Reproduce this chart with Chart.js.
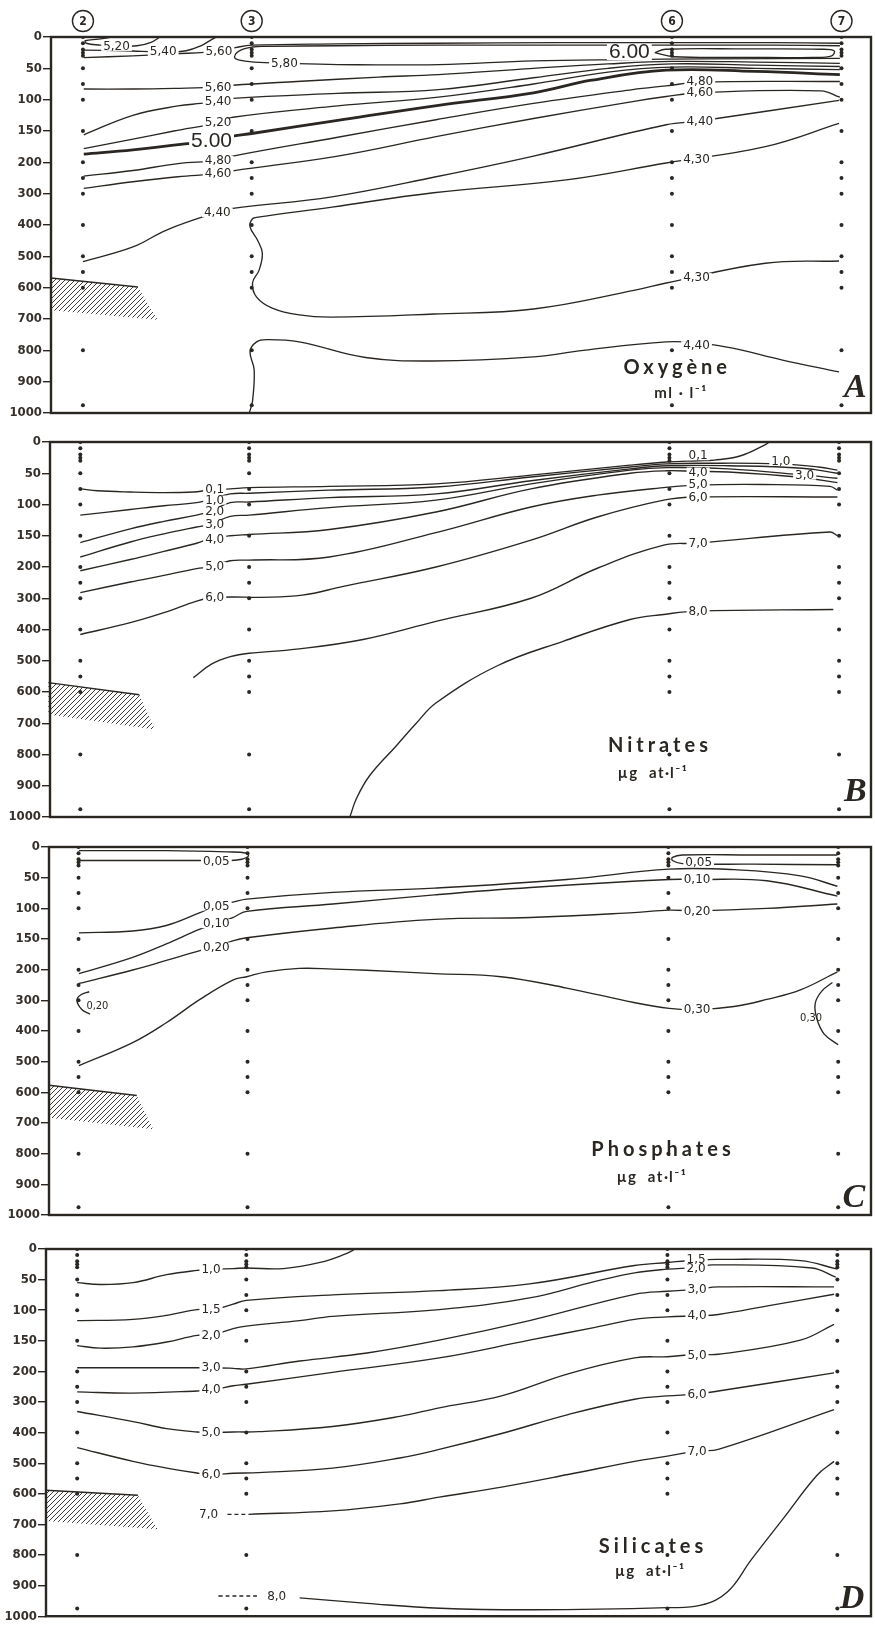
<!DOCTYPE html>
<html>
<head>
<meta charset="utf-8">
<script src="https://cdn.jsdelivr.net/npm/chart.js@4.4.1/dist/chart.umd.min.js"></script>
<style>
  body { margin: 0; background: #fff; }
  #page { position: relative; width: 875px; height: 1625px; overflow: hidden; background: #fff; }
  #page canvas { position: absolute; left: 0; }
</style>
</head>
<body>
<div id="page">
  <canvas id="cA" width="875" height="425" style="top:0px"></canvas>
  <canvas id="cB" width="875" height="405" style="top:425px"></canvas>
  <canvas id="cC" width="875" height="400" style="top:830px"></canvas>
  <canvas id="cD" width="875" height="395" style="top:1230px"></canvas>
</div>
<script>
// stations along the section (distance units) and sampling depths (m)
const stations = ['2', '3', '6', '7'];
const stationDist = [3.9, 24.5, 75.8, 96.5];
const sampleDepths = [0, 10, 20, 25, 30, 50, 75, 100, 150, 200, 250, 300, 400, 500, 550, 600, 800, 975];
const depthTicks = [0, 50, 100, 150, 200, 300, 400, 500, 600, 700, 800, 900, 1000];

// ---- A : oxygene (ml/l) isolines, [distance, depth]
const oxy520a = [[7.5,0],[5.8,3.5],[4.2,6],[4.3,10],[6,13],[8,15],[10.5,14],[12.3,8],[13.3,0]];
const oxy540a = [[4,21],[9,22],[14,24],[16.5,22],[18.3,14],[19.5,5],[20.2,0]];
const oxy560a = [[4,33],[10,30],[15,27],[20.3,23],[22.5,17],[24.5,13],[35,11],[47,10],[62,9],[75.8,9],[88,9],[96.3,10]];
const oxy580 = [[96.3,14],[88,13],[75.8,13],[62,13],[47,13],[35,14],[26.5,15],[24.6,16],[23,22],[22.4,32],[23,37],[24.8,40],[28.6,42],[35,44],[47.3,44],[58.9,38],[70,36],[80,35],[96.3,34]];
const oxy600 = [[73.7,25],[75,19.5],[85,19],[94,19.5],[95.6,22],[95.3,30],[93,32.5],[85,32.5],[76,31.5],[73.7,25]];
const oxy560b = [[4,83],[10,83],[15,82],[20.4,80],[22.2,77],[30,71],[40,64],[47.3,60],[58.9,50],[68,43],[75.8,39],[86,40],[96.3,42]];
const oxy540b = [[4,156],[10,125],[15.5,110],[18.3,106],[20.4,103],[22.2,98],[35,90],[47.3,84],[58.9,65],[68,50],[75.8,43],[86,45],[96.3,47]];
const oxy520b = [[4,178],[10,163],[15,150],[20.4,137],[22.2,128],[35,110],[47.3,96],[58.9,75],[68,56],[75.8,48],[86,50],[96.3,52]];
const oxy500 = [[4,187],[10,180],[16.8,170],[19.6,165],[22.2,158],[24.5,154],[35,133],[47.3,109],[58.9,89],[66,69],[75.1,53],[86,55],[96.3,60]];
const oxy480 = [[4,244],[10,226],[15.5,204],[20.4,197],[22.2,190],[35,160],[47,132],[58.9,106],[71,84],[75.1,78],[79.2,72],[96.3,71]];
const oxy460 = [[4,283],[10,262],[15.5,246],[20.4,236],[22.2,227],[35,190],[47,159],[58.9,130],[71,103],[75.1,95],[79.2,89],[94,86],[96.3,96]];
const oxy440a = [[3.9,517],[10,470],[14.1,416],[20.2,360],[22.2,347],[34.3,310],[47,246],[58.9,190],[75.1,140],[79.2,134],[96.2,101]];
const oxy430 = [[96.2,138],[87.2,175],[75.1,202],[62.9,256],[46.7,297],[34.3,343],[25.3,375],[24.6,380],[24.3,406],[25.2,448],[25.8,490],[25.4,544],[24.6,585],[25.1,630],[27,665],[30.3,687],[34.3,694],[46.7,684],[58.9,668],[71.3,608],[75.1,585],[87.2,522],[96.2,515]];
const oxy440b = [[24.2,1000],[24.6,962],[24.8,862],[24.3,803],[25.1,773],[26.3,766],[30.3,773],[38.4,823],[46.7,834],[58.9,821],[65,800],[75.1,773],[79.2,777],[83.2,793],[89.3,831],[96.2,869]];
const oxyLabels = [[8,15,'5,20'],[13.7,23,'5,40'],[20.5,23,'5,60'],[28.5,42,'5,80'],[20.4,80,'5,60'],[20.4,103,'5,40'],[20.4,137,'5,20'],[19.6,165,'5.00','big'],[20.4,197,'4,80'],[20.4,236,'4,60'],[20.3,360,'4,40'],[70.6,24,'6.00','big'],[79.2,71,'4,80'],[79.2,89,'4,60'],[79.2,134,'4,40'],[78.8,195,'4,30'],[78.8,568,'4,30'],[78.8,785,'4,40']];
const oxyShelf = [[0,569],[10.6,598],[13,702],[0,672]];

// ---- B : nitrates
const nit01 = [[3.9,75],[6,78],[10,80],[14.1,81],[17.7,80],[19.7,77],[22.2,75],[24.5,73],[34.3,71],[47.3,67],[58.9,53],[71,37],[75.5,32],[79.3,30],[81.3,29],[84.5,22],[87.4,5],[88,0]];
const nit10 = [[3.9,117],[10,108],[14.1,102],[18.1,97],[19.7,92],[22.2,83],[24.5,82],[34.3,77],[47.3,72],[58.9,56],[71,40],[75.5,35],[80,34],[89.3,35],[94,40],[96.3,45]];
const nit20 = [[3.9,161],[10,139],[14.1,127],[18.1,117],[19.7,111],[22.2,97],[24.5,96],[34.3,89],[47.3,83],[58.9,62],[71,43],[75.5,38],[83,38],[92,42],[96.3,50]];
const nit30 = [[3.9,184],[10,160],[14.1,147],[18.1,136],[19.7,132],[22.2,119],[24.5,117],[34.3,105],[47.3,93],[58.9,67],[71,45],[75.5,41],[83,43],[92.3,53],[96.3,58]];
const nit40 = [[3.9,212],[10,188],[14.1,175],[18.1,162],[19.7,155],[22.2,150],[24.5,148],[34.3,140],[47.3,112],[58.9,75],[71,50],[75.5,46],[79,47],[83,48],[91.4,56],[96.3,65]];
const nit50 = [[3.9,282],[10,248],[14.1,227],[18.1,205],[19.7,200],[22.2,190],[24.5,189],[34.3,184],[47.3,145],[58.9,104],[67,85],[75.1,73],[79,69],[87.2,68],[95.4,71],[96.3,77]];
const nit60 = [[3.9,416],[10,378],[14.1,346],[18.1,309],[19.7,300],[22.2,296],[26,297],[31,290],[36,262],[47.3,200],[58.9,157],[67,120],[75.1,93],[79,88],[96.3,88]];
const nit70 = [[17.7,554],[19.9,511],[22.2,487],[24.5,476],[30.3,463],[38.4,432],[47.3,374],[58.9,300],[67,204],[75.1,165],[79,162],[95.4,144],[96.3,150]];
const nit80 = [[36.8,1000],[37.6,941],[39.2,868],[42.5,771],[44.9,700],[47.3,635],[54.8,516],[62.9,437],[71,368],[75.1,352],[79,341],[95.8,336]];
const nitLabels = [[20.3,76,'0,1'],[20.3,93,'1,0'],[20.3,111,'2,0'],[20.3,132,'3,0'],[20.3,155,'4,0'],[20.3,199,'5,0'],[20.3,298,'6,0'],[79.3,22,'0,1'],[79.3,48,'4,0'],[89.4,31,'1,0'],[92.3,53,'3,0'],[79.3,67,'5,0'],[79.3,88,'6,0'],[79.3,162,'7,0'],[79.3,341,'8,0']];
const nitShelf = [[0,570],[11.1,609],[13,720],[0,672]];

// ---- C : phosphates
const pho005a = [[3.95,6],[14.6,6],[22,8],[24.4,10],[24.6,15],[23.8,20],[22.5,22],[18.7,22],[10,22],[3.95,22]];
const pho005b = [[96.4,13],[86,13],[77.5,13],[76.3,17],[76.3,22],[77.5,27],[86,28],[96.4,29]];
const pho005c = [[3.95,140],[10.5,137],[14.6,128],[18.7,107],[20.7,96],[22.7,90],[24.4,85],[34.9,74],[47.3,67],[63.4,53],[75.9,36],[83.8,37],[91.9,47],[96.4,64]];
const pho010 = [[3.95,213],[10.5,180],[14.6,158],[18.7,134],[20.7,125],[22.7,115],[24.4,105],[34.9,93],[47.3,78],[59,66],[75.9,53],[79.3,53],[87.8,55],[96.4,80]];
const pho020a = [[3.95,245],[10.5,201],[14.6,185],[18.7,169],[20.7,163],[22.7,153],[24.4,148],[34.9,132],[47.3,118],[59,115],[71.6,107],[75.9,103],[79.3,104],[87.8,100],[96.4,93]];
const pho020b = [[5.2,272],[4.2,282],[3.7,300],[4.3,330],[5.3,345]];
const pho030a = [[3.95,513],[10.5,438],[14.6,373],[18.7,297],[22.7,234],[24.4,223],[26.8,207],[30.8,198],[34.9,199],[39,202],[47.3,213],[55.4,223],[63.4,260],[71.6,307],[75.9,326],[79.3,330],[83.8,320],[87.8,297],[91.9,266],[96.4,207]];
const pho030b = [[95.8,242],[94.5,270],[93.7,310],[93.9,360],[94.8,410],[96.5,445]];
const phoLabels = [[20.7,24,'0,05'],[20.7,96,'0,05'],[20.7,125,'0,10'],[20.7,163,'0,20'],[6.2,318,'0,20','small'],[79.5,25,'0,05'],[79.3,53,'0,10'],[79.3,105,'0,20'],[79.3,330,'0,30'],[93.2,355,'0,30','small']];
const phoShelf = [[0.3,577],[11,610],[13,720],[0.3,683]];

// ---- D : silicates
const sil10 = [[3.9,55],[6.7,58],[10.7,55],[14.8,42],[18.5,35],[20.5,33],[22.9,32],[24.5,31],[29,32],[33.5,22],[36.6,8],[37.8,0]];
const sil15 = [[3.9,117],[10.7,115],[15,108],[18.5,99],[20.5,99],[22.9,90],[24.5,84],[35,75],[48,68],[59,57],[71.8,27],[75.8,22],[79.4,18],[82,17],[92,19],[96.5,33]];
const sil20 = [[3.9,158],[6.7,162],[10.7,160],[14.8,152],[18.5,141],[20.5,140],[22.9,130],[24.5,126],[31,117],[35,110],[48,99],[59,80],[67,53],[71.8,39],[75.8,33],[79.4,30],[81.3,26],[93.4,31],[96.3,46]];
const sil30 = [[3.9,194],[10.7,194],[18.5,194],[20.5,194],[22.9,195],[24.5,196],[31,183],[39.2,170],[48,149],[59,117],[71.8,74],[75.8,69],[79.4,66],[82,62],[96.1,62]];
const sil40 = [[3.9,267],[10.7,271],[18.5,264],[20.5,260],[22.9,247],[24.5,242],[35,203],[48,178],[59,149],[67,128],[71.8,115],[75.8,111],[79.4,109],[82,107],[88,93],[96.1,74]];
const sil50 = [[3.9,331],[10.7,364],[14.8,387],[18.5,398],[20.5,400],[22.9,398],[26,397],[35,380],[43.2,347],[48,319],[55.6,280],[63.7,208],[71.8,178],[75.8,176],[79.4,172],[82,172],[92,149],[96.1,123]];
const sil60 = [[3.9,449],[10.7,494],[14.8,516],[18.5,532],[20.5,537],[22.9,533],[26,531],[35,516],[43.2,483],[48,455],[55.6,403],[63.7,341],[71.8,291],[75.8,280],[79.4,274],[82,264],[96.1,205]];
const sil70 = [[24.8,667],[35,656],[43.2,633],[48,611],[55.6,578],[63.7,537],[71.8,494],[75.8,477],[79.4,460],[82,455],[96.1,325]];
const sil70d = [[22.2,667],[24.8,667]];
const sil80 = [[31,940],[39.2,958],[48.1,974],[59.6,979],[75.8,972],[79.9,964],[83.1,921],[86,816],[90,678],[94,540],[96.1,494]];
const sil80d = [[21.1,934],[25.8,934]];
const silLabels = [[20.2,33,'1,0'],[20.2,99,'1,5'],[20.2,141,'2,0'],[20.2,193,'3,0'],[20.2,260,'4,0'],[20.2,400,'5,0'],[20.2,537,'6,0'],[19.9,667,'7,0'],[28.2,934,'8,0'],[79.3,17,'1,5'],[79.3,32,'2,0'],[79.4,66,'3,0'],[79.4,109,'4,0'],[79.4,173,'5,0'],[79.4,275,'6,0'],[79.4,460,'7,0']];
const silShelf = [[0.1,588],[11.3,605],[13.7,716],[0.1,689]];

const INK = '#2a2622';

function depthIdx(d) {
    return d <= 200 ? d / 50 : 4 + (d - 200) / 100;
}

function hatchPattern(ctx) {
    const c = document.createElement('canvas');
    c.width = 5; c.height = 5;
    const g = c.getContext('2d');
    g.strokeStyle = INK;
    g.lineWidth = 0.9;
    g.beginPath();
    g.moveTo(0, 5); g.lineTo(5, 0);
    g.moveTo(-1, 1); g.lineTo(1, -1);
    g.moveTo(4, 6); g.lineTo(6, 4);
    g.stroke();
    return ctx.createPattern(c, 'repeat');
}

const panels = [
    { id: 'cA', axisW: 51, pad: { top: 37, bottom: 12, left: 0, right: 1 }, xMin: 0, xMax: 100.1,
      lines: [oxy520a, oxy540a, oxy560a, oxy580, oxy600, oxy560b, oxy540b, oxy520b, oxy500, oxy480, oxy460, oxy440a, oxy430, oxy440b],
      thick: [oxy500], dashed: [], labels: oxyLabels, shelf: oxyShelf,
      title: ['Oxygène', 76.2, 856], unit: ['ml · l⁻¹', 76.9, 936], letter: ['A', 98.2, 922], circles: true },
    { id: 'cB', axisW: 50, pad: { top: 17, bottom: 13, left: 0, right: 1 }, xMin: 0.2, xMax: 100.4,
      lines: [nit01, nit10, nit20, nit30, nit40, nit50, nit60, nit70, nit80],
      thick: [], dashed: [], labels: nitLabels, shelf: nitShelf,
      title: ['Nitrates', 74.4, 770], unit: ['µg  at·l⁻¹', 73.8, 860], letter: ['B', 98.5, 922] },
    { id: 'cC', axisW: 49, pad: { top: 17, bottom: 15, left: 0, right: 2 }, xMin: 0.3, xMax: 100.5,
      lines: [pho005a, pho005b, pho005c, pho010, pho020a, pho020b, pho030a, pho030b],
      thick: [], dashed: [], labels: phoLabels, shelf: phoShelf,
      title: ['Phosphates', 74.9, 788], unit: ['µg  at·l⁻¹', 73.8, 876], letter: ['C', 98.4, 946] },
    { id: 'cD', axisW: 46, pad: { top: 19, bottom: 7, left: 0, right: 3 }, xMin: 0.1, xMax: 100.6,
      lines: [sil10, sil15, sil20, sil30, sil40, sil50, sil60, sil70, sil70d, sil80, sil80d],
      thick: [], dashed: [sil70d, sil80d], labels: silLabels, shelf: silShelf,
      title: ['Silicates', 73.8, 772], unit: ['µg  at·l⁻¹', 73.7, 854], letter: ['D', 98.3, 943] }
];

function drawPanel(p) {
    const canvas = document.getElementById(p.id);
    const ctx = canvas.getContext('2d');

    const datasets = p.lines.map(pts => ({
        data: pts.map(q => ({ x: q[0], y: depthIdx(q[1]) })),
        showLine: true,
        pointRadius: 0,
        borderColor: INK,
        borderWidth: p.thick.includes(pts) ? 2.8 : 1.35,
        borderDash: p.dashed.includes(pts) ? [4, 3] : [],
        tension: 0.4,
        fill: false
    }));

    // sampling points of the four stations
    const dots = [];
    stationDist.forEach(x => sampleDepths.forEach(d => dots.push({ x: x, y: depthIdx(d) })));
    datasets.push({ data: dots, showLine: false, pointRadius: 2, pointBackgroundColor: INK, pointBorderWidth: 0 });

    // hatched bottom (sill)
    datasets.push({ data: p.shelf.map(q => ({ x: q[0], y: depthIdx(q[1]) })), showLine: false, pointRadius: 0, hatch: true });

    const decor = {
        id: 'decor',
        beforeDatasetsDraw(chart) {
            const c = chart.ctx;
            chart.data.datasets.forEach((ds, i) => {
                if (!ds.hatch) return;
                const pts = chart.getDatasetMeta(i).data;
                c.save();
                c.beginPath();
                pts.forEach((pt, k) => k ? c.lineTo(pt.x, pt.y) : c.moveTo(pt.x, pt.y));
                c.closePath();
                c.fillStyle = hatchPattern(c);
                c.fill();
                c.beginPath();
                c.moveTo(pts[0].x, pts[0].y);
                c.lineTo(pts[1].x, pts[1].y);
                c.strokeStyle = INK;
                c.lineWidth = 1.5;
                c.stroke();
                c.restore();
            });
        },
        afterDatasetsDraw(chart) {
            const c = chart.ctx, xs = chart.scales.x, ys = chart.scales.y;
            c.save();
            c.textAlign = 'center';
            c.textBaseline = 'middle';
            p.labels.forEach(l => {
                const x = xs.getPixelForValue(l[0]);
                const y = ys.getPixelForValue(depthIdx(l[1]));
                const kind = l[3];
                c.font = kind === 'big' ? '21px "Liberation Sans"' : kind === 'small' ? '11px "DejaVu Sans Condensed"' : '12px "DejaVu Sans"';
                const w = c.measureText(l[2]).width;
                if (kind !== 'small') {
                    const h = kind === 'big' ? 16 : 9;
                    c.fillStyle = '#fff';
                    c.fillRect(x - w / 2 - 2, y - h / 2, w + 4, h);
                }
                c.fillStyle = INK;
                c.fillText(l[2], x, y + 0.5);
            });
            c.restore();
        },
        afterDraw(chart) {
            const c = chart.ctx, a = chart.chartArea, xs = chart.scales.x, ys = chart.scales.y;
            c.save();
            c.strokeStyle = INK;
            c.lineWidth = 2.4;
            c.strokeRect(a.left, a.top, a.right - a.left, a.bottom - a.top);

            c.fillStyle = INK;
            c.textAlign = 'center';
            c.textBaseline = 'middle';
            c.font = 'bold 20px Lato';
            c.letterSpacing = '4px';
            c.fillText(p.title[0], xs.getPixelForValue(p.title[1]) + 2, ys.getPixelForValue(depthIdx(p.title[2])));
            c.font = 'bold 15px Lato';
            c.letterSpacing = '1.5px';
            c.fillText(p.unit[0], xs.getPixelForValue(p.unit[1]), ys.getPixelForValue(depthIdx(p.unit[2])));
            c.letterSpacing = '0px';
            c.font = 'italic bold 34px "Liberation Serif"';
            c.fillText(p.letter[0], xs.getPixelForValue(p.letter[1]), ys.getPixelForValue(depthIdx(p.letter[2])));

            if (p.circles) {
                c.lineWidth = 1.4;
                c.font = 'bold 12px "DejaVu Sans Condensed"';
                stations.forEach((s, i) => {
                    const x = xs.getPixelForValue(stationDist[i]);
                    const y = a.top - 16;
                    c.beginPath();
                    c.arc(x, y, 10.5, 0, Math.PI * 2);
                    c.stroke();
                    c.fillText(s, x, y + 1);
                });
            }
            c.restore();
        }
    };

    new Chart(ctx, {
        type: 'scatter',
        data: { datasets: datasets },
        options: {
            responsive: false,
            animation: false,
            devicePixelRatio: 1,
            layout: { padding: p.pad },
            plugins: { legend: { display: false }, tooltip: { enabled: false } },
            scales: {
                x: { type: 'linear', min: p.xMin, max: p.xMax, display: false },
                y: {
                    type: 'linear',
                    reverse: true,
                    min: 0,
                    max: 12,
                    afterFit: s => { s.width = p.axisW; },
                    border: { display: false },
                    grid: { drawOnChartArea: false, drawTicks: true, tickLength: 8, color: INK, lineWidth: 1.4 },
                    ticks: {
                        stepSize: 1,
                        autoSkip: false,
                        padding: 1,
                        color: '#35302b',
                        font: { family: 'DejaVu Sans Condensed', size: 13, weight: 'bold' },
                        callback: v => depthTicks[v]
                    }
                }
            }
        },
        plugins: [decor]
    });
}

panels.forEach(drawPanel);
</script>
</body>
</html>
